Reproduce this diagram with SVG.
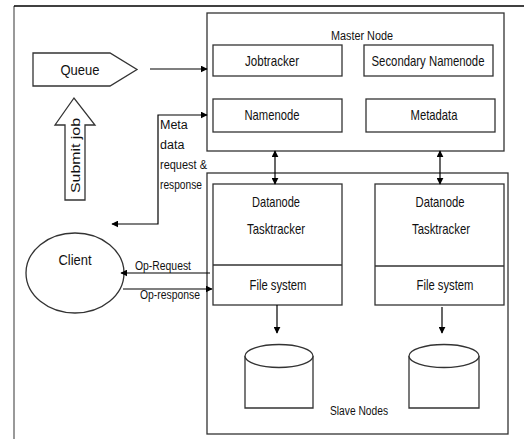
<svg xmlns="http://www.w3.org/2000/svg" width="524" height="439" viewBox="0 0 524 439">
<style>
.box{fill:#fff;stroke:#333;stroke-width:1.3}
.ln{fill:none;stroke:#000;stroke-width:1.2}
.t{font-family:"Liberation Sans",Arial,sans-serif;font-size:15px;fill:#111;text-anchor:middle}
.s{font-family:"Liberation Sans",Arial,sans-serif;font-size:12.5px;fill:#111}
</style>
<defs>
<marker id="ah" viewBox="0 0 10 10" refX="9" refY="5" markerWidth="7" markerHeight="7" orient="auto-start-reverse" markerUnits="userSpaceOnUse">
<path d="M0,0 L10,5 L0,10 z" fill="#000"/>
</marker>
</defs>
<g id="frame">
<line x1="14" y1="6" x2="14" y2="439" stroke="#999" stroke-width="2"/>
<line x1="14" y1="6" x2="524" y2="6" stroke="#000" stroke-width="1.5"/>
</g>
<g id="master">
<rect class="box" x="207" y="13" width="297" height="138"/>
<text class="s" x="362" y="40" text-anchor="middle" textLength="62" lengthAdjust="spacingAndGlyphs">Master Node</text>
</g>
<g id="jobtracker"><rect class="box" x="213" y="45" width="129" height="31"/><text class="t" x="272" y="66" textLength="54" lengthAdjust="spacingAndGlyphs">Jobtracker</text></g>
<g id="secondary"><rect class="box" x="364" y="45" width="129" height="31"/><text class="t" x="428" y="66" textLength="113" lengthAdjust="spacingAndGlyphs">Secondary Namenode</text></g>
<g id="namenode"><rect class="box" x="213" y="99" width="129" height="33"/><text class="t" x="272" y="120" textLength="55" lengthAdjust="spacingAndGlyphs">Namenode</text></g>
<g id="metadata"><rect class="box" x="366" y="99" width="129" height="33"/><text class="t" x="434" y="120" textLength="47" lengthAdjust="spacingAndGlyphs">Metadata</text></g>
<g id="slave">
<rect class="box" x="207" y="173" width="301" height="261"/>
<text class="s" x="359" y="415" text-anchor="middle" textLength="58" lengthAdjust="spacingAndGlyphs">Slave Nodes</text>
</g>
<g id="datanode1">
<rect class="box" x="213" y="184" width="129" height="121"/>
<line x1="213" y1="265" x2="342" y2="265" stroke="#333" stroke-width="1.3"/>
<text class="t" x="276" y="207" textLength="48" lengthAdjust="spacingAndGlyphs">Datanode</text>
<text class="t" x="276" y="234" textLength="58" lengthAdjust="spacingAndGlyphs">Tasktracker</text>
<text class="t" x="278" y="290" textLength="57" lengthAdjust="spacingAndGlyphs">File system</text>
</g>
<g id="datanode2">
<rect class="box" x="375" y="184" width="129" height="121"/>
<line x1="375" y1="266" x2="504" y2="266" stroke="#333" stroke-width="1.3"/>
<text class="t" x="440" y="207" textLength="49" lengthAdjust="spacingAndGlyphs">Datanode</text>
<text class="t" x="441" y="234" textLength="58" lengthAdjust="spacingAndGlyphs">Tasktracker</text>
<text class="t" x="445" y="290" textLength="57" lengthAdjust="spacingAndGlyphs">File system</text>
</g>
<g id="disk1"><path d="M245,356 L245,408 L313,408 L313,356" fill="#fff" stroke="#333" stroke-width="1.3"/><ellipse cx="279" cy="356" rx="34" ry="11.5" fill="#fff" stroke="#333" stroke-width="1.3"/></g>
<g id="disk2"><path d="M409,356 L409,408 L479,408 L479,356" fill="#fff" stroke="#333" stroke-width="1.3"/><ellipse cx="444" cy="356" rx="35" ry="11.5" fill="#fff" stroke="#333" stroke-width="1.3"/></g>
<g id="queue">
<path d="M33,53 L110,53 L137,69.5 L110,86 L33,86 z" fill="#fff" stroke="#333" stroke-width="1.3"/>
<text class="t" x="80" y="75" textLength="39" lengthAdjust="spacingAndGlyphs">Queue</text>
</g>
<g id="submit">
<path d="M65,200 L65,125 L55,125 L74,98 L95,125 L85,125 L85,200 z" fill="#fff" stroke="#333" stroke-width="1.3"/>
<text class="s" transform="translate(79.5,155.5) rotate(-90)" text-anchor="middle" font-size="15" textLength="75" lengthAdjust="spacingAndGlyphs">Submit job</text>
</g>
<g id="client">
<ellipse cx="75" cy="273" rx="49" ry="40" fill="#fff" stroke="#333" stroke-width="1.3"/>
<text class="t" x="75" y="265" textLength="33" lengthAdjust="spacingAndGlyphs">Client</text>
</g>
<g id="connectors">
<line class="ln" x1="150" y1="69" x2="207" y2="69" marker-end="url(#ah)"/>
<path class="ln" d="M112,224 L158,224 L158,115 L207,115" marker-start="url(#ah)" marker-end="url(#ah)"/>
<line class="ln" x1="275" y1="151" x2="275" y2="184" marker-start="url(#ah)" marker-end="url(#ah)"/>
<line class="ln" x1="440" y1="151" x2="440" y2="184" marker-start="url(#ah)" marker-end="url(#ah)"/>
<line class="ln" x1="277" y1="305" x2="277" y2="333" marker-end="url(#ah)"/>
<line class="ln" x1="442" y1="307" x2="442" y2="333" marker-end="url(#ah)"/>
<line class="ln" x1="210" y1="273" x2="121" y2="273" marker-end="url(#ah)"/>
<line class="ln" x1="123" y1="289" x2="212" y2="289" marker-end="url(#ah)"/>
</g>
<g id="labels">
<text class="s" x="160" y="129">Meta</text>
<text class="s" x="160" y="149">data</text>
<text class="s" x="160" y="169" textLength="47" lengthAdjust="spacingAndGlyphs">request &amp;</text>
<text class="s" x="160" y="189" textLength="42" lengthAdjust="spacingAndGlyphs">response</text>
<text class="s" x="163" y="270" text-anchor="middle" textLength="56" lengthAdjust="spacingAndGlyphs">Op-Request</text>
<text class="s" x="170" y="299" text-anchor="middle" textLength="60" lengthAdjust="spacingAndGlyphs">Op-response</text>
</g>
</svg>
